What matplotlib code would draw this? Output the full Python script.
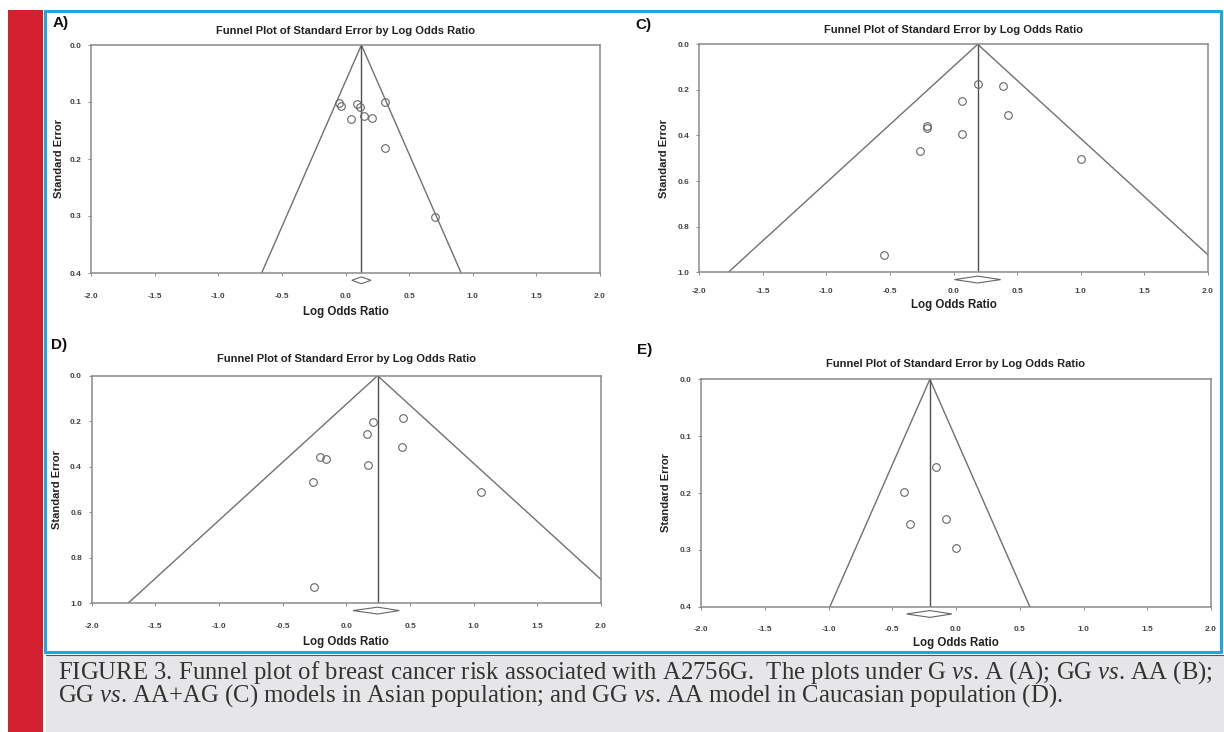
import numpy as np
import matplotlib
matplotlib.use("Agg")
import matplotlib.pyplot as plt
from matplotlib.patches import Rectangle, Polygon

plt.rcParams['font.family'] = ['Liberation Sans', 'DejaVu Sans']
plt.rcParams['mathtext.fontset'] = 'custom'
plt.rcParams['mathtext.rm'] = 'Liberation Serif'
plt.rcParams['mathtext.it'] = 'Liberation Serif:italic'

# data (log odds ratio, standard error)
panel_names = ['A)', 'C)', 'D)', 'E)']

lor_a = [-0.050, -0.034, 0.090, 0.112, 0.307, 0.043, 0.143, 0.205, 0.314, 0.702]
se_a = [0.101, 0.107, 0.104, 0.108, 0.100, 0.130, 0.125, 0.128, 0.180, 0.302]

lor_c = [0.192, 0.389, 0.069, 0.430, -0.208, -0.205, 0.069, -0.260, 1.005, -0.544]
se_c = [0.175, 0.183, 0.247, 0.310, 0.358, 0.367, 0.392, 0.466, 0.504, 0.924]

lor_d = [0.447, 0.208, 0.165, 0.438, -0.205, -0.161, 0.168, -0.261, 1.059, -0.255]
se_d = [0.184, 0.204, 0.256, 0.312, 0.359, 0.366, 0.392, 0.466, 0.512, 0.928]

lor_e = [-0.158, -0.407, -0.078, -0.358, 0.002]
se_e = [0.155, 0.199, 0.245, 0.255, 0.296]

pooled = [0.125, 0.19, 0.245, -0.205]
ci_low = [0.05, 0.008, 0.053, -0.388]
ci_high = [0.20, 0.371, 0.416, -0.032]
se_max = [0.4, 1.0, 1.0, 0.4]

xticks = [-2.0, -1.5, -1.0, -0.5, 0.0, 0.5, 1.0, 1.5, 2.0]
yticks_small = [0.0, 0.1, 0.2, 0.3, 0.4]
yticks_big = [0.0, 0.2, 0.4, 0.6, 0.8, 1.0]

title = 'Funnel Plot of Standard Error by Log Odds Ratio'
caption = ('FIGURE 3. Funnel plot of breast cancer risk associated with A2756G.  '
           'The plots under G $\\mathit{vs}$. A (A); GG $\\mathit{vs}$. AA (B);\n'
           'GG $\\mathit{vs}$. AA+AG (C) models in Asian population; and GG '
           '$\\mathit{vs}$. AA model in Caucasian population (D).')

W, H = 1224, 732

def fx(x):
    return x / W

def fy(y):
    return 1 - y / H

fig = plt.figure(figsize=(W / 100, H / 100), dpi=100)
fig.patch.set_facecolor('white')

# bingkai halaman
fig.add_artist(Rectangle((fx(8), fy(732)), fx(35), 722 / H, transform=fig.transFigure,
                         facecolor='#d2202f', edgecolor='none'))
fig.add_artist(Rectangle((fx(46), fy(732)), fx(1178), 77 / H, transform=fig.transFigure,
                         facecolor='#e6e6e8', edgecolor='none'))
fig.add_artist(plt.Line2D([fx(46), fx(1224)], [fy(654.5), fy(654.5)], transform=fig.transFigure,
                          color='#555555', lw=0.8))
fig.add_artist(Rectangle((fx(44.5), fy(652)), fx(1221 - 44.5), 641 / H, transform=fig.transFigure,
                         facecolor='none', edgecolor='#1ba8e4', lw=2.2))

# posisi axes dalam piksel: kiri, atas, kanan, bawah
boxes = [(91, 45, 600, 273), (699, 44.3, 1208, 272.3),
         (91.7, 375.7, 601, 603.3), (701, 379.3, 1211, 606.7)]
letter_pos = [(53, 22.7), (635, 25), (51, 345), (637, 350)]
title_y = [31, 30, 359, 364]
xlabel_y = [312, 305, 642, 643]
xtick_y = [295, 290, 625, 628]
ylabel_x = [58.5, 664, 56.5, 665.6]

all_lor = [lor_a, lor_c, lor_d, lor_e]
all_se = [se_a, se_c, se_d, se_e]

for i in range(4):
    l, t, r, b = boxes[i]
    ax = fig.add_axes([fx(l), fy(b), (r - l) / W, (b - t) / H])
    ymax = se_max[i]
    c = pooled[i]

    # garis funnel 95%
    ax.plot([c - 1.96 * ymax, c, c + 1.96 * ymax], [ymax, 0, ymax], color='#707070', lw=1.0)
    ax.plot([c, c], [0, ymax], color='#505050', lw=1.0)

    ax.plot(all_lor[i], all_se[i], 'o', mfc='none', mec='#666666', mew=0.8, ms=5.5)

    # diamond ringkasan di bawah sumbu
    yd = ymax * 1.032
    hd = ymax * 0.015
    dia = Polygon([[ci_low[i], yd], [c, yd - hd], [ci_high[i], yd], [c, yd + hd]],
                  closed=True, facecolor='white', edgecolor='#666666', lw=0.8, clip_on=False)
    ax.add_patch(dia)

    ax.set_xlim(-2, 2)
    ax.set_ylim(ymax, 0)
    ax.set_xticks(xticks)
    ax.set_xticklabels(['%.1f' % v for v in xticks])
    yt = yticks_small if ymax < 0.5 else yticks_big
    ax.set_yticks(yt)
    ax.set_yticklabels(['%.1f' % v for v in yt])

    pad_x = (xtick_y[i] - b - 4.5) * 0.72
    ax.tick_params(axis='x', length=2, width=0.6, color='#777777', pad=pad_x,
                   labelsize=6, labelcolor='#444444')
    ax.tick_params(axis='y', length=2, width=0.6, color='#777777', pad=5,
                   labelsize=6, labelcolor='#444444')
    for lab in ax.get_xticklabels() + ax.get_yticklabels():
        lab.set_fontweight('bold')

    for s in ax.spines.values():
        s.set_color('#8a8a8a')
        s.set_linewidth(1.1)

    ax.set_xlabel('Log Odds Ratio', fontsize=8.3, fontweight='bold', color='#222222')
    ax.xaxis.set_label_coords(0.5, -(xlabel_y[i] - b) / (b - t), transform=ax.transAxes)
    ax.xaxis.label.set_va('center')
    ax.set_ylabel('Standard Error', fontsize=8, fontweight='bold', color='#222222')
    ax.yaxis.set_label_coords(-(l - ylabel_x[i]) / (r - l), 0.5, transform=ax.transAxes)
    ax.yaxis.label.set_va('center')

    fig.text(fx((l + r) / 2), fy(title_y[i]), title, ha='center', va='center',
             fontsize=8, fontweight='bold', color='#222222')
    fig.text(fx(letter_pos[i][0]), fy(letter_pos[i][1]), panel_names[i], ha='left', va='center',
             fontsize=11, fontweight='bold', color='#111111')

# keterangan gambar
fig.text(fx(58), fy(684), caption, ha='left', va='center', fontsize=17.8,
         family='Liberation Serif', color='#333333', linespacing=0.82)

plt.savefig('out.png', dpi=100)
